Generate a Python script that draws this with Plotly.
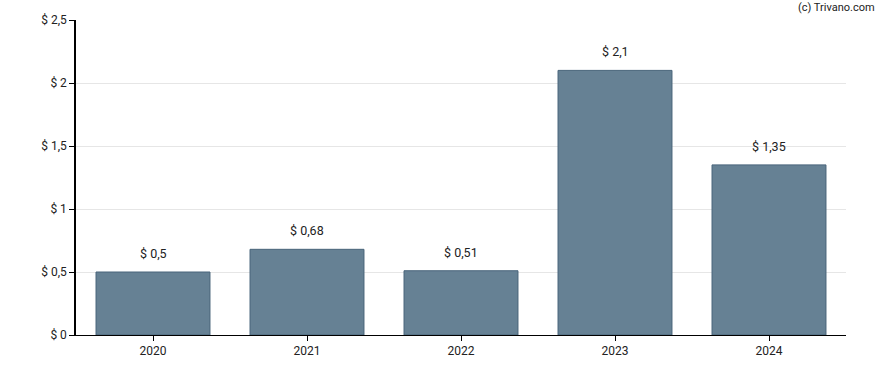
import plotly.graph_objects as go

years = ["2020", "2021", "2022", "2023", "2024"]
values = [0.5, 0.68, 0.51, 2.1, 1.35]
labels = ["$ 0,5", "$ 0,68", "$ 0,51", "$ 2,1", "$ 1,35"]
ytick_vals = [0, 0.5, 1, 1.5, 2, 2.5]
ytick_text = ["$ 0", "$ 0,5", "$ 1", "$ 1,5", "$ 2", "$ 2,5"]

fig = go.Figure()
fig.add_trace(go.Bar(
    x=years, y=values,
    marker=dict(color="#668194", line=dict(color="#48647a", width=1)),
    hoverinfo="skip",
))
for i, (v, t) in enumerate(zip(values, labels)):
    fig.add_annotation(x=i, y=v, text=t, showarrow=False, yanchor="bottom",
                       yshift=9, font=dict(size=12.5, color="#222"))
fig.add_annotation(xref="paper", yref="paper", x=1.0, y=1.0, xshift=31, yshift=12.5,
                   xanchor="right", yanchor="middle", text="(c) Trivano.com",
                   showarrow=False, font=dict(size=11, color="#222"))

fig.update_layout(
    width=888, height=370,
    margin=dict(l=76, r=42, t=20, b=35, autoexpand=False),
    paper_bgcolor="white", plot_bgcolor="white",
    font=dict(family="Roboto, Arial, sans-serif", size=12, color="#222"),
    bargap=0.26, showlegend=False,
    separators=",.",
)
fig.update_xaxes(type="category", range=[-0.5, len(years) - 0.5], showline=True,
                 linecolor="black", linewidth=1,
                 ticks="outside", ticklen=5, tickcolor="black", showgrid=False,
                 tickfont=dict(size=12))
fig.update_yaxes(range=[0, 2.5], tickvals=ytick_vals, ticktext=ytick_text,
                 showline=True, linecolor="black", linewidth=1.5, ticks="outside",
                 ticklen=5, tickcolor="black", gridcolor="#e6e6e6",
                 zeroline=False, tickfont=dict(size=12))

fig.write_html(
    "out.html",
    config={"displayModeBar": False},
    post_script="document.body.style.margin='0';document.body.style.overflow='hidden';",
)
